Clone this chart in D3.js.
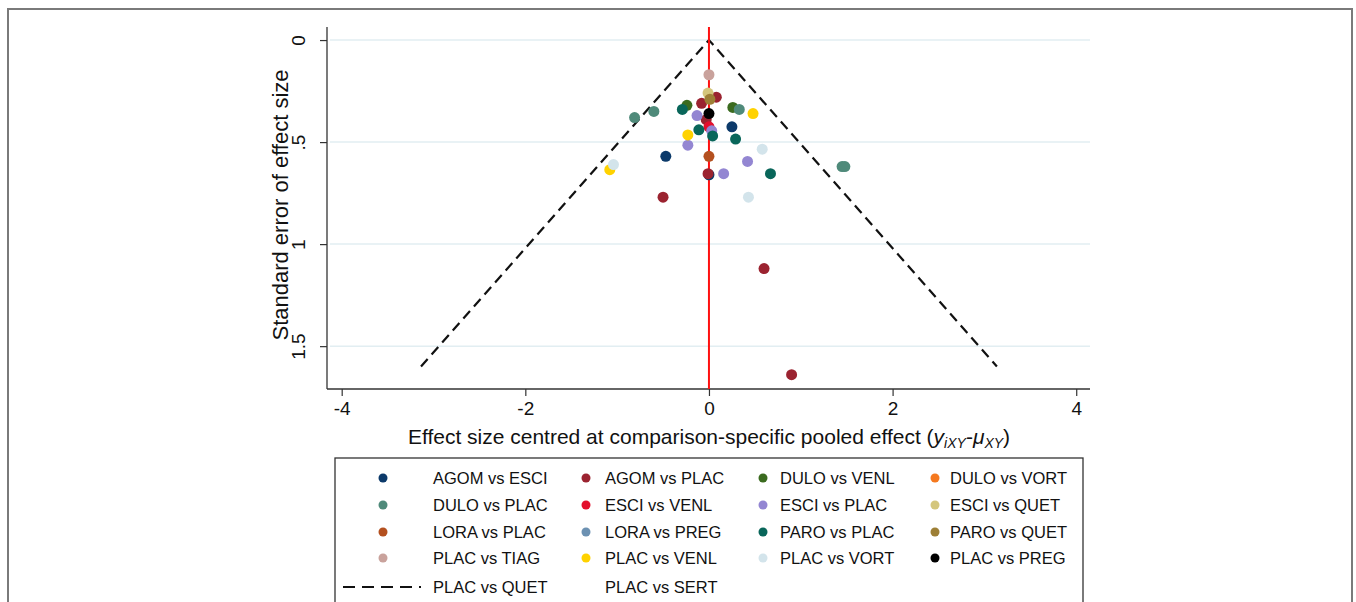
<!DOCTYPE html>
<html><head><meta charset="utf-8">
<script src="https://cdn.jsdelivr.net/npm/d3@7"></script>
<style>body{margin:0;background:#fff}svg{display:block;font-family:"Liberation Sans",Arial,sans-serif}</style>
</head><body><svg id="c" width="1356" height="602"></svg>
<script>
const seriesNames = ["AGOM vs ESCI","AGOM vs PLAC","DULO vs VENL","DULO vs VORT",
  "DULO vs PLAC","ESCI vs VENL","ESCI vs PLAC","ESCI vs QUET",
  "LORA vs PLAC","LORA vs PREG","PARO vs PLAC","PARO vs QUET",
  "PLAC vs TIAG","PLAC vs VENL","PLAC vs VORT","PLAC vs PREG"];
const seriesColors = ["#0c3a6a","#9b2330","#3b6b1f","#f5791f",
  "#4f8a7a","#e3102d","#9386d2","#d4c67c",
  "#b4501f","#6c91b2","#09665a","#9d7f36",
  "#c9a29c","#ffd200","#d3e4eb","#000000"];
// points: series index, centred effect size, standard error
const pointSeries = [0,0,0, 1,1,1,1,1,1,1, 2,2, 4,4,4,4,4, 5, 6,6,6,6,6, 7, 8, 10,10,10,10,10, 11, 12, 13,13,13, 14,14,14, 15];
const effectValues = [0.25,-0.47,0.0, 0.08,-0.08,-0.03,-0.01,-0.5,0.6,0.9, -0.24,0.26, -0.6,-0.81,0.33,1.45,1.48, 0.0, -0.13,0.03,-0.23,0.42,0.16, -0.01, 0.0, -0.29,-0.11,0.04,0.29,0.67, 0.01, 0.0, 0.48,-0.23,-1.08, 0.58,-1.04,0.43, 0.0];
const seValues = [0.425,0.57,0.66, 0.28,0.31,0.39,0.655,0.77,1.12,1.64, 0.32,0.33, 0.35,0.38,0.34,0.62,0.62, 0.425, 0.37,0.445,0.515,0.595,0.655, 0.26, 0.57, 0.34,0.44,0.47,0.485,0.655, 0.29, 0.17, 0.36,0.465,0.635, 0.535,0.61,0.77, 0.36];
const xTicks = [-4,-2,0,2,4];
const yTicks = [0,0.5,1,1.5];
const yTickLabels = ["0",".5","1","1.5"];
const seMaxCI = 1.6;

const svg = d3.select("#c");
// outer frame
svg.append("rect").attr("x",8).attr("y",9).attr("width",1344).attr("height",620)
  .attr("fill","none").attr("stroke","#7a7a7a").attr("stroke-width",2);

const x = d3.scaleLinear().domain([-4.16,4.15]).range([327,1090]);
const y = d3.scaleLinear().domain([-0.064,1.71]).range([27,389]);

// grid
svg.append("g").selectAll("line").data(yTicks).join("line")
  .attr("x1",330).attr("x2",1090).attr("y1",d=>y(d)).attr("y2",d=>y(d))
  .attr("stroke","#e2eef2").attr("stroke-width",1.5);

// axes
const xAxis = svg.append("g").attr("transform","translate(0,389)")
  .call(d3.axisBottom(x).tickValues(xTicks).tickSize(7).tickPadding(6).tickFormat(d=>d<0?"-"+Math.abs(d):d));
xAxis.select(".domain").attr("stroke","#333").attr("stroke-width",1.3).attr("d","M327,0H1090");
xAxis.selectAll(".tick line").attr("stroke","#333").attr("stroke-width",1.2);
xAxis.selectAll(".tick text").attr("font-size",19).attr("fill","#111").attr("font-family","Liberation Sans, Arial");

const yAxis = svg.append("g").attr("transform","translate(327,0)")
  .call(d3.axisLeft(y).tickValues(yTicks).tickSize(7).tickFormat((d,i)=>yTickLabels[i]));
yAxis.select(".domain").attr("stroke","#333").attr("stroke-width",1.3).attr("d","M0,27V389");
yAxis.selectAll(".tick line").attr("stroke","#333").attr("stroke-width",1.2);
yAxis.selectAll(".tick text").attr("font-size",19).attr("fill","#111").attr("font-family","Liberation Sans, Arial")
  .attr("x",0).attr("dy",0).attr("text-anchor","middle")
  .attr("transform","translate(-22,0) rotate(-90)");

// pseudo CI dashed triangle
const tri = [[-1.96*seMaxCI,seMaxCI],[0,0],[1.96*seMaxCI,seMaxCI]];
svg.append("path").attr("d",d3.line().x(d=>x(d[0])).y(d=>y(d[1]))(tri))
  .attr("fill","none").attr("stroke","#111").attr("stroke-width",2.2).attr("stroke-dasharray","10,6");

// red zero line
svg.append("line").attr("x1",x(0)).attr("x2",x(0)).attr("y1",27).attr("y2",389)
  .attr("stroke","#ff1010").attr("stroke-width",2);

// points
svg.append("g").selectAll("circle").data(d3.range(pointSeries.length)).join("circle")
  .attr("cx",i=>x(effectValues[i])).attr("cy",i=>y(seValues[i])).attr("r",5.5)
  .attr("fill",i=>seriesColors[pointSeries[i]]);

// axis titles
svg.append("text").attr("transform","translate(288,205) rotate(-90)").attr("text-anchor","middle")
  .attr("font-size",22).attr("fill","#111").text("Standard error of effect size");
const xt = svg.append("text").attr("x",709).attr("y",444).attr("text-anchor","middle")
  .attr("font-size",21).attr("fill","#111");
xt.append("tspan").text("Effect size centred at comparison-specific pooled effect (");
xt.append("tspan").attr("font-style","italic").text("y");
xt.append("tspan").attr("font-style","italic").attr("font-size",14).attr("dy",4).text("iXY");
xt.append("tspan").attr("dy",-4).text("-");
xt.append("tspan").attr("font-style","italic").text("\u03bc");
xt.append("tspan").attr("font-style","italic").attr("font-size",14).attr("dy",4).text("XY");
xt.append("tspan").attr("dy",-4).text(")");

// legend
svg.append("rect").attr("x",335).attr("y",458).attr("width",748).attr("height",160)
  .attr("fill","none").attr("stroke","#333").attr("stroke-width",1.3);
const colMarker = [383,586,763,935];
const colText = [433,605,780,950];
const rowY = [478,505,532,558,587];
const lg = svg.append("g").attr("font-size",16.5).attr("fill","#111");
seriesNames.forEach((n,i)=>{
  const r = Math.floor(i/4), c = i%4;
  lg.append("circle").attr("cx",colMarker[c]).attr("cy",rowY[r]).attr("r",4.5).attr("fill",seriesColors[i]);
  lg.append("text").attr("x",colText[c]).attr("y",rowY[r]).attr("dy","0.36em").text(n);
});
lg.append("line").attr("x1",343).attr("x2",421).attr("y1",rowY[4]).attr("y2",rowY[4])
  .attr("stroke","#111").attr("stroke-width",2).attr("stroke-dasharray","12,7");
lg.append("text").attr("x",colText[0]).attr("y",rowY[4]).attr("dy","0.36em").text("PLAC vs QUET");
lg.append("text").attr("x",colText[1]).attr("y",rowY[4]).attr("dy","0.36em").text("PLAC vs SERT");
</script></body></html>
